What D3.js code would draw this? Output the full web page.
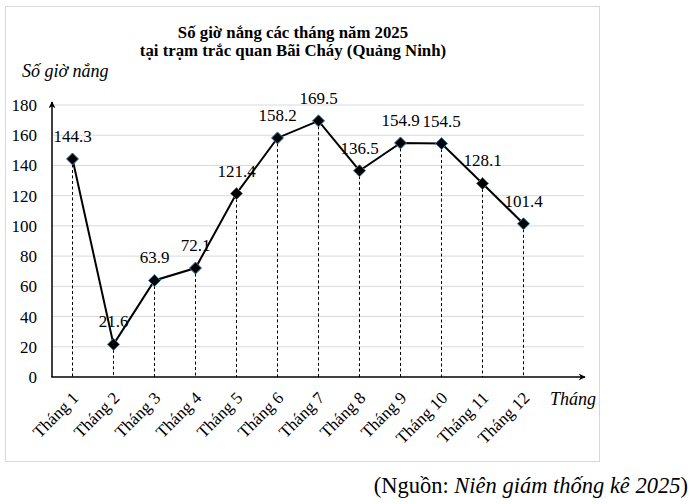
<!DOCTYPE html>
<html>
<head>
<meta charset="utf-8">
<script src="https://cdn.jsdelivr.net/npm/d3@7"></script>
<style>
  body { margin: 0; background: #fff; }
  text { font-family: "Liberation Serif", "DejaVu Serif", serif; }
</style>
</head>
<body>
<script>
var months = ["Tháng 1", "Tháng 2", "Tháng 3", "Tháng 4", "Tháng 5", "Tháng 6",
  "Tháng 7", "Tháng 8", "Tháng 9", "Tháng 10", "Tháng 11", "Tháng 12"];
var hours = [144.3, 21.6, 63.9, 72.1, 121.4, 158.2, 169.5, 136.5, 154.9, 154.5, 128.1, 101.4];
var yTicks = [0, 20, 40, 60, 80, 100, 120, 140, 160, 180];

var data = months.map((m, i) => ({ month: m, value: hours[i] }));

var svg = d3.select("body").append("svg")
  .attr("width", 695).attr("height", 504)
  .attr("font-family", "Liberation Serif, serif");

// khung ngoai
svg.append("rect")
  .attr("x", 5.5).attr("y", 6.5)
  .attr("width", 594).attr("height", 455)
  .attr("fill", "none")
  .attr("stroke", "#d9d9d9");

var x = d3.scaleBand().domain(months).range([52, 544]);
var y = d3.scaleLinear().domain([0, 180]).range([377, 105]);
var gridRight = 584;

// luoi ngang
svg.append("g")
  .selectAll("line")
  .data(yTicks.filter((d) => d > 0))
  .enter()
  .append("line")
  .attr("x1", 52).attr("x2", gridRight)
  .attr("y1", (d) => y(d)).attr("y2", (d) => y(d))
  .attr("stroke", "#d9d9d9");

// nhan truc tung
svg.append("g")
  .selectAll("text")
  .data(yTicks)
  .enter()
  .append("text")
  .attr("x", 37)
  .attr("y", (d) => y(d) + 6)
  .attr("text-anchor", "end")
  .attr("font-size", 17)
  .text((d) => d);

// duong dong dut
var cx = (d) => x(d.month) + x.bandwidth() / 2;
svg.append("g")
  .selectAll("line")
  .data(data)
  .enter()
  .append("line")
  .attr("x1", cx).attr("x2", cx)
  .attr("y1", (d) => y(d.value)).attr("y2", y(0))
  .attr("stroke", "#000")
  .attr("stroke-width", 1)
  .attr("stroke-dasharray", "3,2.5");

// mui ten
var defs = svg.append("defs");
defs.append("marker")
  .attr("id", "arrow")
  .attr("viewBox", "0 0 10 10")
  .attr("refX", 9).attr("refY", 5)
  .attr("markerWidth", 7).attr("markerHeight", 7)
  .attr("markerUnits", "userSpaceOnUse")
  .attr("orient", "auto")
  .append("path")
  .attr("d", "M0,0 L10,5 L0,10 L3,5 Z")
  .attr("fill", "#000");

svg.append("line")
  .attr("x1", 52).attr("y1", y(0)).attr("x2", 52).attr("y2", 102)
  .attr("stroke", "#000").attr("stroke-width", 1.5)
  .attr("marker-end", "url(#arrow)");
svg.append("line")
  .attr("x1", 51.25).attr("y1", y(0)).attr("x2", gridRight + 1).attr("y2", y(0))
  .attr("stroke", "#000").attr("stroke-width", 1.5)
  .attr("marker-end", "url(#arrow)");

// duong du lieu
svg.append("path")
  .datum(data)
  .attr("fill", "none")
  .attr("stroke", "#000")
  .attr("stroke-width", 2)
  .attr("d", d3.line().x(cx).y((d) => y(d.value)));

// diem
svg.append("g")
  .selectAll("path")
  .data(data)
  .enter()
  .append("path")
  .attr("transform", (d) => `translate(${cx(d)},${y(d.value)})`)
  .attr("d", "M0,-6 L6,0 L0,6 L-6,0 Z")
  .attr("fill", "#000")
  .attr("stroke", "#3a7ca0")
  .attr("stroke-width", 1);

// nhan gia tri
svg.append("g")
  .selectAll("text")
  .data(data)
  .enter()
  .append("text")
  .attr("x", cx)
  .attr("y", (d) => y(d.value) - 17)
  .attr("text-anchor", "middle")
  .attr("font-size", 17)
  .text((d) => d.value.toFixed(1));

// nhan truc hoanh
svg.append("g")
  .selectAll("text")
  .data(data)
  .enter()
  .append("text")
  .attr("transform", (d) => `translate(${cx(d) + 7},${y(0) + 22}) rotate(-45)`)
  .attr("text-anchor", "end")
  .attr("font-size", 17)
  .text((d) => d.month);

// tieu de
svg.append("text")
  .attr("x", 293).attr("y", 38)
  .attr("text-anchor", "middle")
  .attr("font-size", 16.8).attr("font-weight", "bold")
  .text("Số giờ nắng các tháng năm 2025");
svg.append("text")
  .attr("x", 293).attr("y", 56)
  .attr("text-anchor", "middle")
  .attr("font-size", 16.8).attr("font-weight", "bold")
  .text("tại trạm trắc quan Bãi Cháy (Quảng Ninh)");

svg.append("text")
  .attr("x", 22).attr("y", 77)
  .attr("font-size", 18).attr("font-style", "italic")
  .text("Số giờ nắng");

svg.append("text")
  .attr("x", 550).attr("y", 405)
  .attr("font-size", 18).attr("font-style", "italic")
  .text("Tháng");

// nguon
var src = svg.append("text")
  .attr("x", 688).attr("y", 493)
  .attr("text-anchor", "end")
  .attr("font-size", 22.5);
src.append("tspan").text("(Nguồn: ");
src.append("tspan").attr("font-style", "italic").text("Niên giám thống kê 2025");
src.append("tspan").text(")");
</script>
</body>
</html>
